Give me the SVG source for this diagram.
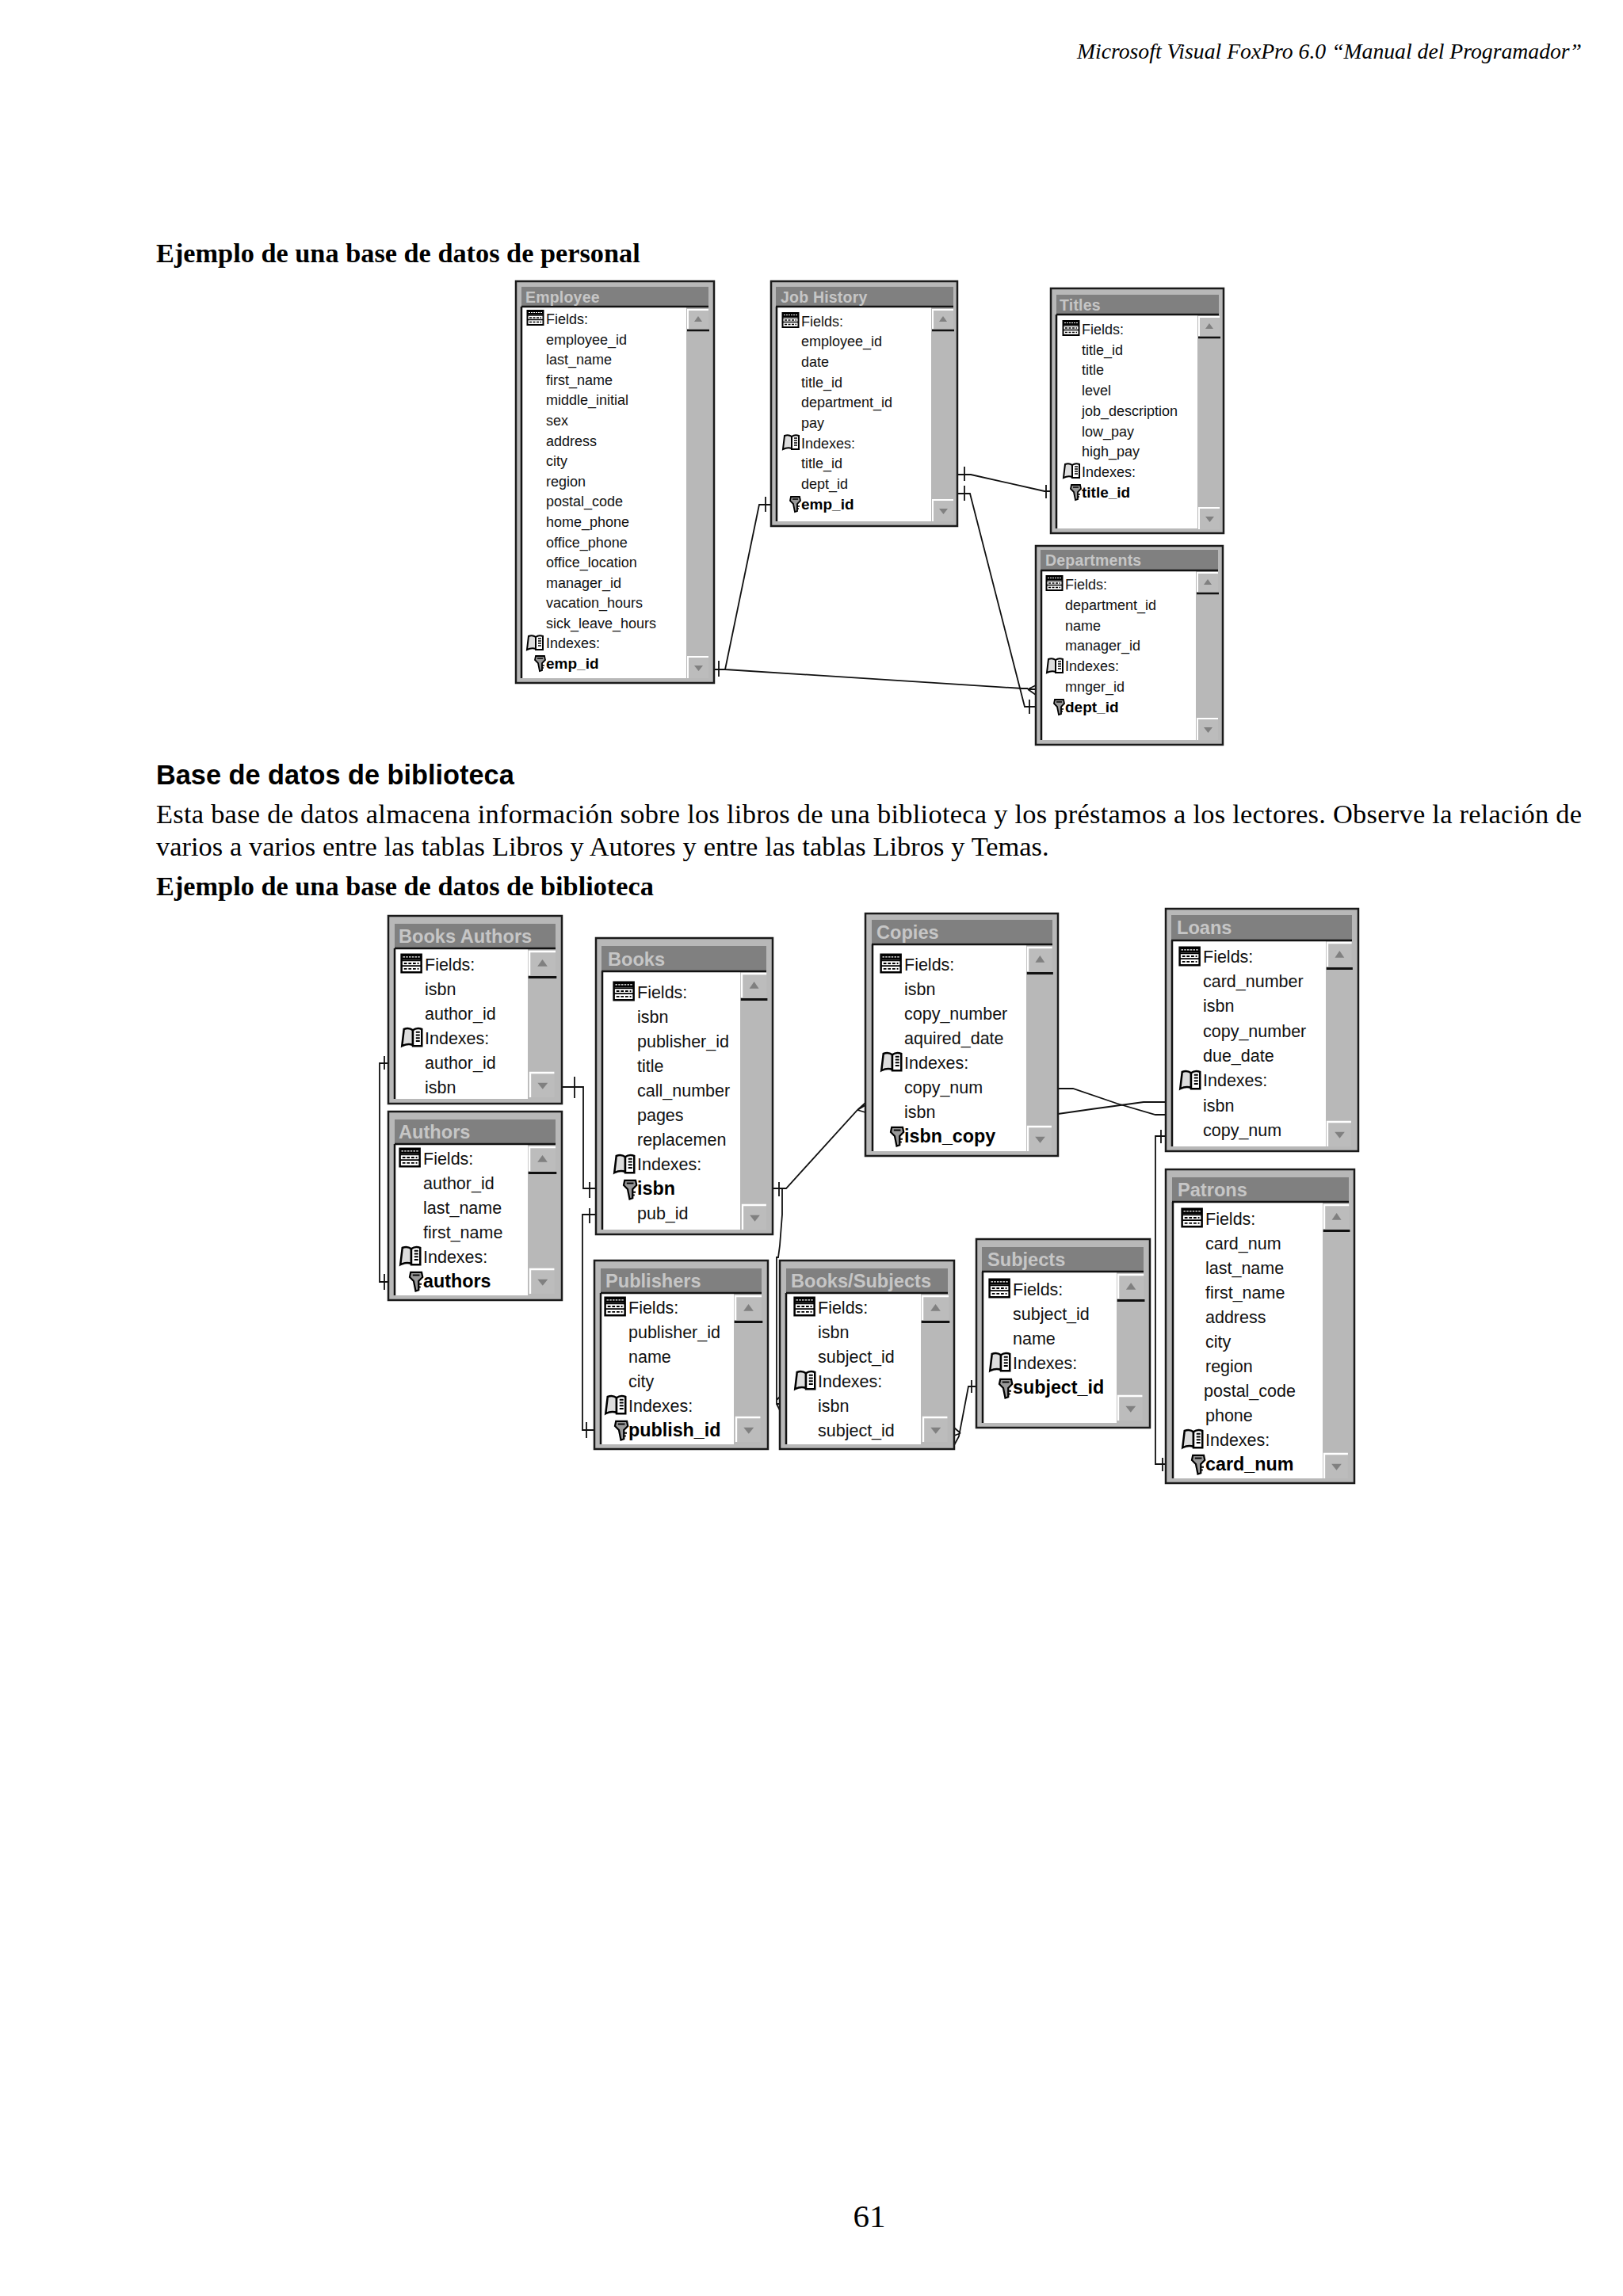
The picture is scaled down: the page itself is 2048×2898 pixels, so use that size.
<svg xmlns="http://www.w3.org/2000/svg" width="2048" height="2898" viewBox="0 0 2048 2898">
<style>
text{font-family:"Liberation Sans",Arial,sans-serif;fill:#000}
.fr{fill:#b8b8b8;stroke:#1a1a1a;stroke-width:2.500}
.tb{fill:#808080}
.wh{fill:#fff}
.ln{stroke:#111;stroke-width:2.500;fill:none}
.s{font-size:18px;transform:translateX(-1px);fill:#111}
.sB{font-size:19px;font-weight:bold;transform:translateX(-1px)}
.l{font-size:21.500px;fill:#111}
.lB{font-size:23.300px;font-weight:bold}
.ts{font-size:19.500px;font-weight:bold;fill:#c6c6c6;letter-spacing:.2px}
.tl{font-size:23.600px;font-weight:bold;fill:#c6c6c6}
.ser{font-family:"Liberation Serif","Times New Roman",serif}
.c{fill:none;stroke:#111;stroke-width:1.800}
</style>
<defs>
<g id="up"><rect width="26" height="24" fill="#bcbcbc"/><path d="M0 24V0H26" fill="none" stroke="#fff" stroke-width="2"/><path d="M8 15h10l-5-7z" fill="#808080"/><path d="M-1 26H27" stroke="#111" stroke-width="2.500"/></g>
<g id="dn"><rect width="26" height="27" fill="#bcbcbc"/><path d="M0 27V0H26" fill="none" stroke="#fff" stroke-width="2"/><path d="M8 11h11l-5.500 7z" fill="#808080"/></g>
<g id="fi"><rect x="0.500" y="-9" width="20" height="18" fill="#fff" stroke="#000" stroke-width="2"/><rect x="1" y="-9" width="19" height="5" fill="#000"/><path d="M2-6.500h17" stroke="#fff" stroke-width="1" stroke-dasharray="2 1"/><path d="M1-3H20M1 2.500H20" stroke="#000" stroke-width="1.500"/><path d="M3 0h15M3 5.500h15" stroke="#000" stroke-width="1.500" stroke-dasharray="3 1.500"/></g>
<g id="bk"><path d="M1 9 3-8Q8-10 12-7V8Q7 6 1 9Z" fill="#ddd" stroke="#000" stroke-width="2"/><path d="M12-7Q16-10 21-8V9H12Z" fill="#fff" stroke="#000" stroke-width="2"/><path d="M15-5h4M15-2h4M15 1h4M15 4h4" stroke="#000" stroke-width="1.500"/></g>
<g id="ke"><path d="M1-9H12L13-4 9 0V9L6 10 4 0 0-4Z" fill="#999" stroke="#000" stroke-width="1.800"/><path d="M3-6h7" stroke="#000" stroke-width="1.500"/><path d="M9 3h3M9 6h2" stroke="#000" stroke-width="1.500"/></g>
</defs>

<g id="page-text">
<text class="ser" x="1996" y="74" font-size="27.700" font-style="italic" text-anchor="end">Microsoft Visual FoxPro 6.0 “Manual del Programador”</text>
<text class="ser" x="197" y="331" font-size="34.300" font-weight="bold">Ejemplo de una base de datos de personal</text>
<text x="197" y="990" font-size="34.300" font-weight="bold">Base de datos de biblioteca</text>
<text class="ser" x="197" y="1039" font-size="34.400" textLength="1799" lengthAdjust="spacing">Esta base de datos almacena información sobre los libros de una biblioteca y los préstamos a los lectores. Observe la relación de</text>
<text class="ser" x="197" y="1080" font-size="34.400" word-spacing=".3">varios a varios entre las tablas Libros y Autores y entre las tablas Libros y Temas.</text>
<text class="ser" x="197" y="1130" font-size="34.300" font-weight="bold">Ejemplo de una base de datos de biblioteca</text>
<text class="ser" x="1097" y="2811" font-size="41" text-anchor="middle">61</text>
</g>

<g id="connectors">
<path class="c" d="M901 845H915L958 637H973M966 627V646M907 834V854M915 845L1290 869H1297M1297 870L1307 865M1297 870H1307M1297 870L1307 877"/>
<path class="c" d="M1208 599H1225L1318 620H1326M1217 589V607M1320 612V629"/>
<path class="c" d="M1208 623H1224L1293 892H1307M1217 613V632M1299 883V901"/>
<path class="c" d="M490 1342H479V1618H490M485 1333V1350M485 1608V1628"/>
<path class="c" d="M709 1372H736V1500H752M725 1359V1386M744 1492V1512"/>
<path class="c" d="M752 1533H735V1805H750M744 1525V1544M740 1795V1815"/>
<path class="c" d="M975 1500H992L1082 1401 1092 1395M983 1492V1510M1082 1401 1092 1392M1082 1401 1092 1404"/>
<path class="c" d="M987 1500V1533L984 1572 982 1587H980V1772H984M980 1767 984 1763M980 1772 984 1780"/>
<path class="c" d="M1335 1374H1354L1410 1393 1458 1407H1471"/>
<path class="c" d="M1335 1406 1377 1400 1443 1391H1471"/>
<path class="c" d="M1471 1434H1458V1848H1471M1465 1426V1443M1467 1840V1857"/>
<path class="c" d="M1232 1750H1222L1210 1813 1204 1824M1226 1742V1758M1212 1809 1204 1802M1212 1809 1204 1812"/>
</g>

<g id="employee">
<rect class="fr" x="651" y="355" width="250" height="507"/>
<rect class="tb" x="658" y="362" width="236" height="25"/>
<rect class="wh" x="658" y="387" width="208" height="469"/>
<path class="ln" d="M658 387H894M658 387V856"/>
<use href="#up" x="868" y="391"/><use href="#dn" x="868" y="829"/>
<text class="ts" x="663" y="382">Employee</text>
<use href="#fi" transform="translate(665,401)"/><use href="#bk" transform="translate(664,811)"/><use href="#ke" transform="translate(675,837)"/>
<text class="s" x="690" y="409">Fields:</text>
<text class="s" x="690" y="434.600">employee_id</text>
<text class="s" x="690" y="460.200">last_name</text>
<text class="s" x="690" y="485.800">first_name</text>
<text class="s" x="690" y="511.400">middle_initial</text>
<text class="s" x="690" y="537">sex</text>
<text class="s" x="690" y="562.600">address</text>
<text class="s" x="690" y="588.200">city</text>
<text class="s" x="690" y="613.800">region</text>
<text class="s" x="690" y="639">postal_code</text>
<text class="s" x="690" y="665">home_phone</text>
<text class="s" x="690" y="690.600">office_phone</text>
<text class="s" x="690" y="716.200">office_location</text>
<text class="s" x="690" y="741.800">manager_id</text>
<text class="s" x="690" y="767.400">vacation_hours</text>
<text class="s" x="690" y="793">sick_leave_hours</text>
<text class="s" x="690" y="818">Indexes:</text>
<text class="sB" x="690" y="844">emp_id</text>
</g>

<g id="job-history">
<rect class="fr" x="973" y="355" width="235" height="309"/>
<rect class="tb" x="979" y="362" width="224" height="25"/>
<rect class="wh" x="980" y="387" width="195" height="271"/>
<path class="ln" d="M979 387H1203M980 387V658"/>
<use href="#up" x="1177" y="391"/><use href="#dn" x="1177" y="631"/>
<text class="ts" x="985" y="382">Job History</text>
<use href="#fi" transform="translate(987,404)"/><use href="#bk" transform="translate(987,558)"/><use href="#ke" transform="translate(997,636)"/>
<text class="s" x="1012" y="412">Fields:</text>
<text class="s" x="1012" y="437">employee_id</text>
<text class="s" x="1012" y="463">date</text>
<text class="s" x="1012" y="488.500">title_id</text>
<text class="s" x="1012" y="514">department_id</text>
<text class="s" x="1012" y="540">pay</text>
<text class="s" x="1012" y="565.500">Indexes:</text>
<text class="s" x="1012" y="591">title_id</text>
<text class="s" x="1012" y="617">dept_id</text>
<text class="sB" x="1012" y="643">emp_id</text>
</g>

<g id="titles">
<rect class="fr" x="1326" y="364" width="218" height="309"/>
<rect class="tb" x="1333" y="372" width="205" height="25"/>
<rect class="wh" x="1333" y="397" width="178" height="270"/>
<path class="ln" d="M1333 397H1538M1333 397V667"/>
<use href="#up" x="1513" y="400"/><use href="#dn" x="1513" y="641"/>
<text class="ts" x="1337" y="392">Titles</text>
<use href="#fi" transform="translate(1341,414)"/><use href="#bk" transform="translate(1341,594)"/><use href="#ke" transform="translate(1351,621)"/>
<text class="s" x="1366" y="422">Fields:</text>
<text class="s" x="1366" y="447.700">title_id</text>
<text class="s" x="1366" y="473.400">title</text>
<text class="s" x="1366" y="499.100">level</text>
<text class="s" x="1366" y="524.800">job_description</text>
<text class="s" x="1366" y="550.500">low_pay</text>
<text class="s" x="1366" y="576.200">high_pay</text>
<text class="s" x="1366" y="601.900">Indexes:</text>
<text class="sB" x="1366" y="627.600">title_id</text>
</g>

<g id="departments">
<rect class="fr" x="1307" y="689" width="236" height="251"/>
<rect class="tb" x="1313" y="694" width="224" height="26"/>
<rect class="wh" x="1314" y="720" width="195" height="214"/>
<path class="ln" d="M1313 720H1537M1314 720V934"/>
<use href="#up" x="1511" y="723"/><use href="#dn" x="1511" y="907"/>
<text class="ts" x="1319" y="714">Departments</text>
<use href="#fi" transform="translate(1320,736)"/><use href="#bk" transform="translate(1320,840)"/><use href="#ke" transform="translate(1330,892)"/>
<text class="s" x="1345" y="744">Fields:</text>
<text class="s" x="1345" y="769.800">department_id</text>
<text class="s" x="1345" y="795.600">name</text>
<text class="s" x="1345" y="821.400">manager_id</text>
<text class="s" x="1345" y="847.200">Indexes:</text>
<text class="s" x="1345" y="873">mnger_id</text>
<text class="sB" x="1345" y="898.800">dept_id</text>
</g>

<g id="books-authors">
<rect class="fr" x="490" y="1156" width="219" height="237"/>
<rect class="tb" x="498" y="1166" width="203" height="31"/>
<rect class="wh" x="498" y="1197" width="168" height="190"/>
<path class="ln" d="M498 1197H701M498 1197V1387"/>
<use href="#up" transform="translate(668,1201) scale(1.270,1.250)"/><use href="#dn" transform="translate(669,1354) scale(1.170,1.150)"/>
<text class="tl" x="503" y="1190">Books Authors</text>
<use href="#fi" transform="translate(506,1216) scale(1.250)"/><use href="#bk" transform="translate(506,1309) scale(1.250)"/>
<text class="l" x="536" y="1225">Fields:</text>
<text class="l" x="536" y="1256">isbn</text>
<text class="l" x="536" y="1287">author_id</text>
<text class="l" x="536" y="1318">Indexes:</text>
<text class="l" x="536" y="1349">author_id</text>
<text class="l" x="536" y="1380">isbn</text>
</g>

<g id="authors">
<rect class="fr" x="490" y="1403" width="219" height="238"/>
<rect class="tb" x="498" y="1413" width="203" height="31"/>
<rect class="wh" x="498" y="1444" width="168" height="191"/>
<path class="ln" d="M498 1444H701M498 1444V1635"/>
<use href="#up" transform="translate(668,1448) scale(1.270,1.250)"/><use href="#dn" transform="translate(669,1602) scale(1.170,1.150)"/>
<text class="tl" x="503" y="1437">Authors</text>
<use href="#fi" transform="translate(504,1461) scale(1.250)"/><use href="#bk" transform="translate(504,1585) scale(1.250)"/><use href="#ke" transform="translate(517,1617) scale(1.250)"/>
<text class="l" x="534" y="1470">Fields:</text>
<text class="l" x="534" y="1501">author_id</text>
<text class="l" x="534" y="1532">last_name</text>
<text class="l" x="534" y="1563">first_name</text>
<text class="l" x="534" y="1594">Indexes:</text>
<text class="lB" x="534" y="1625">authors</text>
</g>

<g id="books">
<rect class="fr" x="752" y="1184" width="223" height="374"/>
<rect class="tb" x="759" y="1194" width="208" height="32"/>
<rect class="wh" x="760" y="1226" width="174" height="326"/>
<path class="ln" d="M759 1226H967M760 1226V1552"/>
<use href="#up" transform="translate(936,1229) scale(1.200,1.250)"/><use href="#dn" transform="translate(937,1521) scale(1.150,1.150)"/>
<text class="tl" x="767" y="1219">Books</text>
<use href="#fi" transform="translate(774,1251) scale(1.250)"/><use href="#bk" transform="translate(774,1469) scale(1.250)"/><use href="#ke" transform="translate(787,1501) scale(1.250)"/>
<text class="l" x="804" y="1260">Fields:</text>
<text class="l" x="804" y="1291">isbn</text>
<text class="l" x="804" y="1322">publisher_id</text>
<text class="l" x="804" y="1353">title</text>
<text class="l" x="804" y="1384">call_number</text>
<text class="l" x="804" y="1415">pages</text>
<text class="l" x="804" y="1446">replacemen</text>
<text class="l" x="804" y="1477">Indexes:</text>
<text class="lB" x="804" y="1508">isbn</text>
<text class="l" x="804" y="1539">pub_id</text>
</g>

<g id="copies">
<rect class="fr" x="1092" y="1153" width="243" height="306"/>
<rect class="tb" x="1100" y="1161" width="228" height="31"/>
<rect class="wh" x="1101" y="1192" width="194" height="261"/>
<path class="ln" d="M1100 1192H1328M1101 1192V1453"/>
<use href="#up" transform="translate(1297,1196) scale(1.180,1.250)"/><use href="#dn" transform="translate(1297,1422) scale(1.150,1.150)"/>
<text class="tl" x="1106" y="1185">Copies</text>
<use href="#fi" transform="translate(1111,1216) scale(1.250)"/><use href="#bk" transform="translate(1111,1340) scale(1.250)"/><use href="#ke" transform="translate(1124,1434) scale(1.250)"/>
<text class="l" x="1141" y="1225">Fields:</text>
<text class="l" x="1141" y="1256">isbn</text>
<text class="l" x="1141" y="1287">copy_number</text>
<text class="l" x="1141" y="1318">aquired_date</text>
<text class="l" x="1141" y="1349">Indexes:</text>
<text class="l" x="1141" y="1380">copy_num</text>
<text class="l" x="1141" y="1411">isbn</text>
<text class="lB" x="1141" y="1442">isbn_copy</text>
</g>

<g id="loans">
<rect class="fr" x="1471" y="1147" width="243" height="306"/>
<rect class="tb" x="1478" y="1155" width="228" height="32"/>
<rect class="wh" x="1479" y="1187" width="194" height="260"/>
<path class="ln" d="M1478 1187H1706M1479 1187V1447"/>
<use href="#up" transform="translate(1675,1190) scale(1.180,1.250)"/><use href="#dn" transform="translate(1675,1416) scale(1.150,1.150)"/>
<text class="tl" x="1485" y="1179">Loans</text>
<use href="#fi" transform="translate(1488,1207) scale(1.250)"/><use href="#bk" transform="translate(1488,1363) scale(1.250)"/>
<text class="l" x="1518" y="1215">Fields:</text>
<text class="l" x="1518" y="1246">card_number</text>
<text class="l" x="1518" y="1277">isbn</text>
<text class="l" x="1518" y="1309">copy_number</text>
<text class="l" x="1518" y="1340">due_date</text>
<text class="l" x="1518" y="1371">Indexes:</text>
<text class="l" x="1518" y="1403">isbn</text>
<text class="l" x="1518" y="1434">copy_num</text>
</g>

<g id="publishers">
<rect class="fr" x="750" y="1591" width="219" height="238"/>
<rect class="tb" x="758" y="1601" width="203" height="31"/>
<rect class="wh" x="758" y="1632" width="168" height="191"/>
<path class="ln" d="M758 1632H961M758 1632V1823"/>
<use href="#up" transform="translate(928,1636) scale(1.270,1.250)"/><use href="#dn" transform="translate(929,1789) scale(1.170,1.150)"/>
<text class="tl" x="764" y="1625">Publishers</text>
<use href="#fi" transform="translate(763,1649) scale(1.250)"/><use href="#bk" transform="translate(763,1773) scale(1.250)"/><use href="#ke" transform="translate(776,1805) scale(1.250)"/>
<text class="l" x="793" y="1658">Fields:</text>
<text class="l" x="793" y="1689">publisher_id</text>
<text class="l" x="793" y="1720">name</text>
<text class="l" x="793" y="1751">city</text>
<text class="l" x="793" y="1782">Indexes:</text>
<text class="lB" x="793" y="1813">publish_id</text>
</g>

<g id="books-subjects">
<rect class="fr" x="984" y="1591" width="220" height="238"/>
<rect class="tb" x="992" y="1601" width="204" height="31"/>
<rect class="wh" x="992" y="1632" width="170" height="191"/>
<path class="ln" d="M992 1632H1196M992 1632V1823"/>
<use href="#up" transform="translate(1164,1636) scale(1.270,1.250)"/><use href="#dn" transform="translate(1165,1789) scale(1.170,1.150)"/>
<text class="tl" x="998" y="1625">Books/Subjects</text>
<use href="#fi" transform="translate(1002,1649) scale(1.250)"/><use href="#bk" transform="translate(1002,1742) scale(1.250)"/>
<text class="l" x="1032" y="1658">Fields:</text>
<text class="l" x="1032" y="1689">isbn</text>
<text class="l" x="1032" y="1720">subject_id</text>
<text class="l" x="1032" y="1751">Indexes:</text>
<text class="l" x="1032" y="1782">isbn</text>
<text class="l" x="1032" y="1813">subject_id</text>
</g>

<g id="subjects">
<rect class="fr" x="1232" y="1564" width="219" height="238"/>
<rect class="tb" x="1239" y="1574" width="204" height="31"/>
<rect class="wh" x="1240" y="1605" width="169" height="191"/>
<path class="ln" d="M1239 1605H1443M1240 1605V1796"/>
<use href="#up" transform="translate(1411,1609) scale(1.240,1.250)"/><use href="#dn" transform="translate(1411,1762) scale(1.170,1.150)"/>
<text class="tl" x="1246" y="1598">Subjects</text>
<use href="#fi" transform="translate(1248,1626) scale(1.250)"/><use href="#bk" transform="translate(1248,1719) scale(1.250)"/><use href="#ke" transform="translate(1261,1752) scale(1.250)"/>
<text class="l" x="1278" y="1635">Fields:</text>
<text class="l" x="1278" y="1666">subject_id</text>
<text class="l" x="1278" y="1697">name</text>
<text class="l" x="1278" y="1728">Indexes:</text>
<text class="lB" x="1278" y="1759">subject_id</text>
</g>

<g id="patrons">
<rect class="fr" x="1471" y="1476" width="238" height="396"/>
<rect class="tb" x="1479" y="1486" width="223" height="31"/>
<rect class="wh" x="1480" y="1517" width="189" height="349"/>
<path class="ln" d="M1479 1517H1702M1480 1517V1866"/>
<use href="#up" transform="translate(1671,1521) scale(1.200,1.250)"/><use href="#dn" transform="translate(1671,1835) scale(1.150,1.150)"/>
<text class="tl" x="1486" y="1510">Patrons</text>
<use href="#fi" transform="translate(1491,1537) scale(1.250)"/><use href="#bk" transform="translate(1491,1816) scale(1.250)"/><use href="#ke" transform="translate(1504,1848) scale(1.250)"/>
<text class="l" x="1521" y="1546">Fields:</text>
<text class="l" x="1521" y="1577">card_num</text>
<text class="l" x="1521" y="1608">last_name</text>
<text class="l" x="1521" y="1639">first_name</text>
<text class="l" x="1521" y="1670">address</text>
<text class="l" x="1521" y="1701">city</text>
<text class="l" x="1521" y="1732">region</text>
<text class="l" x="1519" y="1763">postal_code</text>
<text class="l" x="1521" y="1794">phone</text>
<text class="l" x="1521" y="1825">Indexes:</text>
<text class="lB" x="1521" y="1856">card_num</text>
</g>
</svg>
